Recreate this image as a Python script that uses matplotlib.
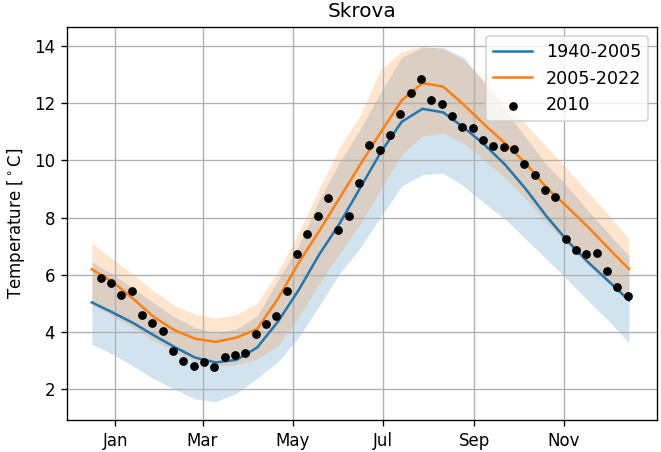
import numpy as np
import pandas as pd
import matplotlib
matplotlib.use("Agg")
import matplotlib.pyplot as plt
import matplotlib.dates as mdates

# ── Data ─────────────────────────────────────────────────────────
# smoothed curves, every 14 days from mid-Dec 2009
line_dates = pd.date_range("2009-12-16", periods=27, freq="14D")

old_mean = [5.03, 4.68, 4.31, 3.88, 3.47, 3.10, 2.93, 3.02, 3.45, 4.35,
            5.45, 6.70, 7.80, 9.05, 10.30, 11.35, 11.80, 11.68, 11.15, 10.55,
            9.85, 9.00, 8.05, 7.20, 6.45, 5.78, 5.10]
old_low = [3.57, 3.22, 2.80, 2.35, 2.00, 1.65, 1.56, 1.85, 2.38, 2.95,
           3.80, 4.90, 6.05, 6.95, 8.05, 9.10, 9.50, 9.55, 9.10, 8.50,
           7.95, 7.25, 6.55, 5.85, 5.10, 4.40, 3.62]
old_high = [6.45, 6.02, 5.52, 5.02, 4.52, 4.15, 3.95, 4.10, 4.55, 5.80,
            7.00, 8.60, 9.95, 11.10, 12.40, 13.60, 13.95, 13.95, 13.60, 12.70,
            11.75, 10.80, 9.85, 9.10, 8.25, 7.45, 6.65]

new_mean = [6.19, 5.75, 5.16, 4.52, 4.06, 3.76, 3.65, 3.80, 4.10, 5.15,
            6.40, 7.52, 8.69, 9.86, 11.00, 12.10, 12.70, 12.58, 11.95, 11.25,
            10.60, 9.90, 9.05, 8.38, 7.68, 6.93, 6.20]
new_low = [4.95, 4.55, 4.15, 3.70, 3.30, 2.95, 2.80, 2.85, 3.05, 3.50,
           4.50, 5.70, 6.75, 7.80, 9.00, 10.20, 10.85, 10.95, 10.60, 10.00,
           9.40, 8.65, 7.85, 7.05, 6.35, 5.70, 5.05]
new_high = [7.10, 6.55, 6.00, 5.42, 4.92, 4.62, 4.48, 4.60, 5.00, 6.10,
            7.45, 9.00, 10.45, 11.60, 13.20, 13.80, 14.00, 13.90, 13.50, 12.80,
            12.00, 11.25, 10.50, 9.70, 8.90, 8.10, 7.25]

# weekly values for 2010
week_dates = pd.date_range("2009-12-22", periods=52, freq="7D")
temp_2010 = [5.87, 5.70, 5.30, 5.43, 4.58, 4.32, 4.02, 3.34, 2.99, 2.80,
             2.93, 2.77, 3.12, 3.18, 3.27, 3.92, 4.27, 4.55, 5.44, 6.71,
             7.43, 8.06, 8.68, 7.56, 8.06, 9.21, 10.55, 10.37, 10.90, 11.62,
             12.37, 12.86, 12.10, 11.97, 11.56, 11.16, 11.13, 10.72, 10.50, 10.46,
             10.41, 9.88, 9.49, 8.95, 8.72, 7.25, 6.85, 6.71, 6.77, 6.14,
             5.56, 5.25]

month_ticks = pd.date_range("2010-01-01", periods=6, freq="2MS")

# ── Figure ───────────────────────────────────────────────────────
fig = plt.figure(figsize=(661 / 120, 452 / 120), dpi=120)
ax = fig.add_axes([0.101, 0.071, 0.893, 0.869])

ax.plot(line_dates, old_mean, color="C0", label="1940-2005")
ax.fill_between(line_dates, old_low, old_high, color="C0", alpha=0.2, lw=0)
ax.plot(line_dates, new_mean, color="C1", label="2005-2022")
ax.fill_between(line_dates, new_low, new_high, color="C1", alpha=0.2, lw=0)
ax.scatter(week_dates, temp_2010, color="k", s=18, zorder=3, label="2010")

ax.set_xticks(month_ticks)
ax.xaxis.set_major_formatter(mdates.DateFormatter("%b"))
ax.set_xlim(pd.Timestamp("2010-01-01") - pd.Timedelta(days=33),
            pd.Timestamp("2010-01-01") + pd.Timedelta(days=367))
ax.set_ylim(0.92, 14.66)
ax.set_yticks([2, 4, 6, 8, 10, 12, 14])

ax.set_ylabel(r"Temperature [$^\circ$C]")
ax.set_title("Skrova")
ax.grid(True)
ax.legend(loc="upper right", fontsize=10.5, handlelength=2.2)

fig.savefig("out.png", dpi=120)
